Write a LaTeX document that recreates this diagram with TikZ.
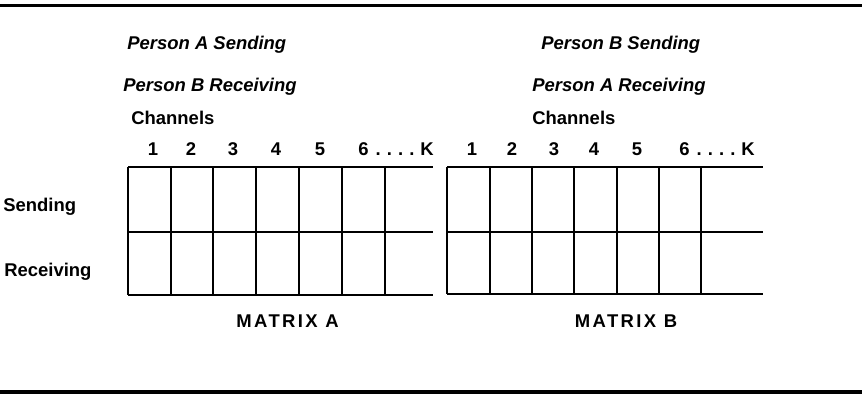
\documentclass[tikz,border=0pt]{standalone}
\usepackage{fontspec}
\setmainfont{Liberation Sans}
\usetikzlibrary{positioning}
\newcommand{\chanK}{6\hspace{0.38em}.\hspace{0.33em}.\hspace{0.33em}.\hspace{0.33em}.\hspace{0.33em}K}

\begin{document}
\begin{tikzpicture}[x=0.02cm, y=-0.02cm,
    title/.style={font=\fontsize{10.5}{12}\selectfont\bfseries\itshape, anchor=base west, inner sep=0pt},
    label/.style={font=\fontsize{10.5}{12}\selectfont\bfseries, anchor=base west, inner sep=0pt},
    num/.style={font=\fontsize{10.5}{12}\selectfont\bfseries, anchor=base, inner sep=0pt},
    mname/.style={font=\fontsize{10.5}{12}\selectfont\bfseries\addfontfeatures{LetterSpace=13}, anchor=base, inner sep=0pt},
    cell/.style={line width=1.1pt},
    rule/.style={line width=2.2pt}
]
\useasboundingbox (0,0) rectangle (862,394);

% Rules
\draw[rule] (0,5.5) -- (862,5.5);
\draw[rule] (0,392) -- (862,392);

% Headings
\node[title] (asend) at (127,50) {Person A Sending};
\node[title] (brecv) at (123,92) {Person B Receiving};
\node[label] (chanA) at (131,125) {Channels};
\node[title] (bsend) at (541,50) {Person B Sending};
\node[title] (arecv) at (532,92) {Person A Receiving};
\node[label] (chanB) at (532,125) {Channels};

% Row labels
\node[label] (rowsend) at (3,212) {Sending};
\node[label] (rowrecv) at (4,277) {Receiving};

% Channel numbers
\foreach \x [count=\i] in {153,191,233,276,320}
    \node[num] (na\i) at (\x,156) {\i};
\node[num, anchor=base west] (naK) at (358,156) {\chanK};
\foreach \x [count=\i] in {472,512,554,594,637}
    \node[num] (nb\i) at (\x,156) {\i};
\node[num, anchor=base west] (nbK) at (679,156) {\chanK};

% Matrix A
\foreach \y in {167,232,295}
    \draw[cell] (128,\y) -- (433,\y);
\foreach \x in {128,171,213,256,299,342,385}
    \draw[cell] (\x,167) -- (\x,295);

% Matrix B
\foreach \y in {167,232,294}
    \draw[cell] (447,\y) -- (763,\y);
\foreach \x in {447,490,532,574,617,659,701}
    \draw[cell] (\x,167) -- (\x,294);

% Matrix names
\node[mname] (matA) at (287.5,328) {MATRIX A};
\node[mname] (matB) at (626,328) {MATRIX B};
\end{tikzpicture}
\end{document}
